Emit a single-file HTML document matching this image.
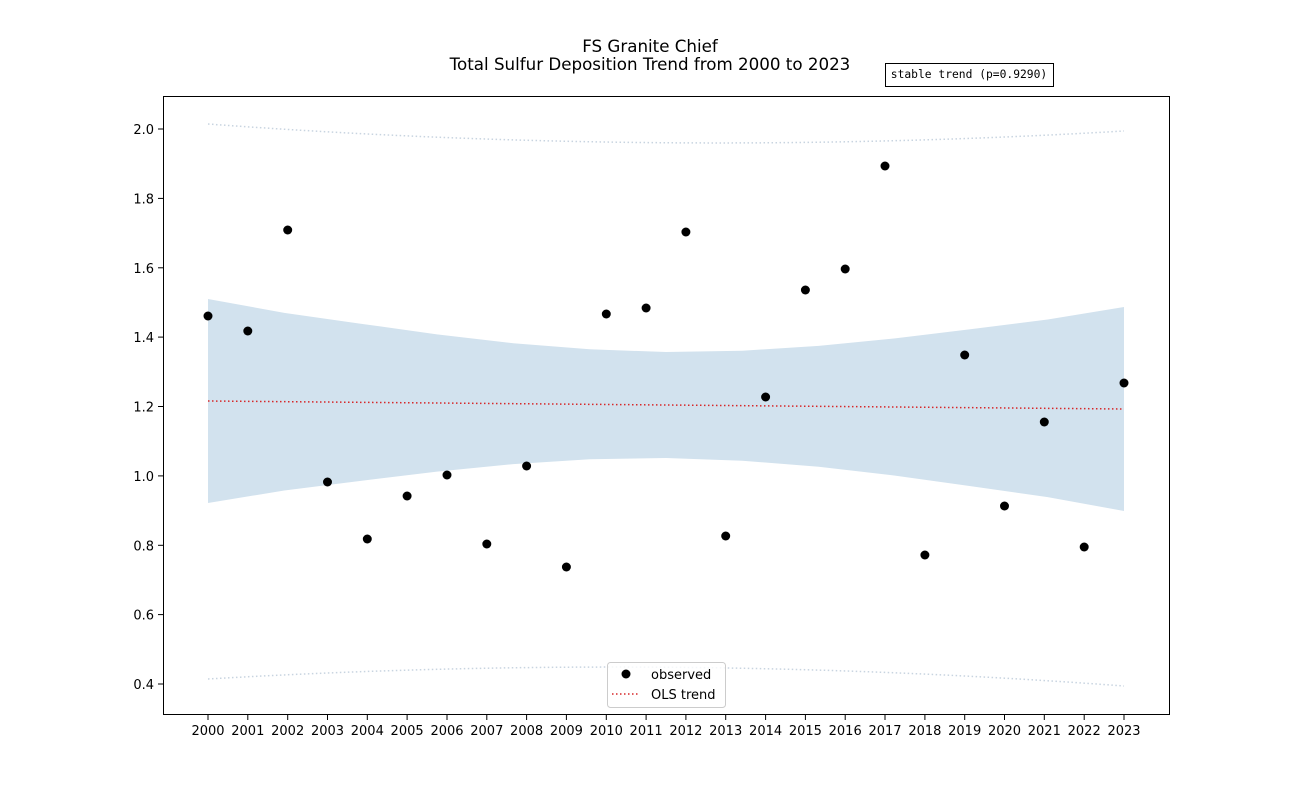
<!DOCTYPE html>
<html><head><style>body{margin:0;background:#fff}svg{display:block}</style></head><body>
<svg width="1300" height="803" xmlns="http://www.w3.org/2000/svg" font-family="DejaVu Sans, Liberation Sans, sans-serif">
<rect width="1300" height="803" fill="#fff"/>
<text x="650" y="52" font-size="16.7" text-anchor="middle">FS Granite Chief</text>
<text x="650" y="70" font-size="16.7" text-anchor="middle">Total Sulfur Deposition Trend from 2000 to 2023</text>
<rect x="885.5" y="63.5" width="168" height="23" fill="#fff" stroke="#000"/>
<text x="969" y="78" font-size="11.3" text-anchor="middle" font-family="DejaVu Sans Mono, Liberation Mono, monospace">stable trend (p=0.9290)</text>
<polygon fill="#d2e2ee" points="208,299 284.3,312.9 360.7,323.7 437,334.4 513.3,343.3 589.7,349.3 666,352 742.3,350.7 818.7,345.9 895,338.4 971.3,329.1 1047.7,319.5 1124,307 1124,511 1047.7,497.1 971.3,486.3 895,475.6 818.7,466.7 742.3,460.7 666,458 589.7,459.3 513.3,464.1 437,471.6 360.7,480.9 284.3,490.5 208,503"/>
<path d="M208,124 Q666,158 1124,131" fill="none" stroke="#c8d4e0" stroke-width="1.5" stroke-dasharray="1.5,2.5"/>
<path d="M208,679 Q666,652 1124,686" fill="none" stroke="#c8d4e0" stroke-width="1.5" stroke-dasharray="1.5,2.5"/>
<line x1="208" y1="401" x2="1124" y2="409" stroke="#d62728" stroke-width="1.5" stroke-dasharray="1.5,2.5"/>
<g fill="#000">
<circle cx="208" cy="316" r="4.5"/><circle cx="247.8" cy="331" r="4.5"/><circle cx="287.7" cy="230" r="4.5"/><circle cx="327.5" cy="482" r="4.5"/><circle cx="367.3" cy="539" r="4.5"/><circle cx="407.1" cy="496" r="4.5"/><circle cx="447" cy="475" r="4.5"/><circle cx="486.8" cy="544" r="4.5"/><circle cx="526.6" cy="466" r="4.5"/><circle cx="566.4" cy="567" r="4.5"/><circle cx="606.3" cy="314" r="4.5"/><circle cx="646.1" cy="308" r="4.5"/><circle cx="685.9" cy="232" r="4.5"/><circle cx="725.7" cy="536" r="4.5"/><circle cx="765.6" cy="397" r="4.5"/><circle cx="805.4" cy="290" r="4.5"/><circle cx="845.2" cy="269" r="4.5"/><circle cx="885" cy="166" r="4.5"/><circle cx="924.9" cy="555" r="4.5"/><circle cx="964.7" cy="355" r="4.5"/><circle cx="1004.5" cy="506" r="4.5"/><circle cx="1044.3" cy="422" r="4.5"/><circle cx="1084.2" cy="547" r="4.5"/><circle cx="1124" cy="383" r="4.5"/>
</g>
<rect x="163.5" y="96.5" width="1006" height="618" fill="none" stroke="#000"/>
<g stroke="#000">
<line x1="158" y1="129" x2="163" y2="129"/><line x1="158" y1="198.4" x2="163" y2="198.4"/><line x1="158" y1="267.8" x2="163" y2="267.8"/><line x1="158" y1="337.1" x2="163" y2="337.1"/><line x1="158" y1="406.5" x2="163" y2="406.5"/><line x1="158" y1="475.9" x2="163" y2="475.9"/><line x1="158" y1="545.3" x2="163" y2="545.3"/><line x1="158" y1="614.6" x2="163" y2="614.6"/><line x1="158" y1="684" x2="163" y2="684"/>
</g>
<g font-size="13" text-anchor="end">
<text x="154" y="134">2.0</text><text x="154" y="203.4">1.8</text><text x="154" y="272.8">1.6</text><text x="154" y="342.1">1.4</text><text x="154" y="411.5">1.2</text><text x="154" y="480.9">1.0</text><text x="154" y="550.3">0.8</text><text x="154" y="619.6">0.6</text><text x="154" y="689">0.4</text>
</g>
<g stroke="#000">
<line x1="208" y1="715" x2="208" y2="720"/><line x1="247.8" y1="715" x2="247.8" y2="720"/><line x1="287.7" y1="715" x2="287.7" y2="720"/><line x1="327.5" y1="715" x2="327.5" y2="720"/><line x1="367.3" y1="715" x2="367.3" y2="720"/><line x1="407.1" y1="715" x2="407.1" y2="720"/><line x1="447" y1="715" x2="447" y2="720"/><line x1="486.8" y1="715" x2="486.8" y2="720"/><line x1="526.6" y1="715" x2="526.6" y2="720"/><line x1="566.4" y1="715" x2="566.4" y2="720"/><line x1="606.3" y1="715" x2="606.3" y2="720"/><line x1="646.1" y1="715" x2="646.1" y2="720"/><line x1="685.9" y1="715" x2="685.9" y2="720"/><line x1="725.7" y1="715" x2="725.7" y2="720"/><line x1="765.6" y1="715" x2="765.6" y2="720"/><line x1="805.4" y1="715" x2="805.4" y2="720"/><line x1="845.2" y1="715" x2="845.2" y2="720"/><line x1="885" y1="715" x2="885" y2="720"/><line x1="924.9" y1="715" x2="924.9" y2="720"/><line x1="964.7" y1="715" x2="964.7" y2="720"/><line x1="1004.5" y1="715" x2="1004.5" y2="720"/><line x1="1044.3" y1="715" x2="1044.3" y2="720"/><line x1="1084.2" y1="715" x2="1084.2" y2="720"/><line x1="1124" y1="715" x2="1124" y2="720"/>
</g>
<g font-size="13" text-anchor="middle">
<text x="208" y="735">2000</text><text x="247.8" y="735">2001</text><text x="287.7" y="735">2002</text><text x="327.5" y="735">2003</text><text x="367.3" y="735">2004</text><text x="407.1" y="735">2005</text><text x="447" y="735">2006</text><text x="486.8" y="735">2007</text><text x="526.6" y="735">2008</text><text x="566.4" y="735">2009</text><text x="606.3" y="735">2010</text><text x="646.1" y="735">2011</text><text x="685.9" y="735">2012</text><text x="725.7" y="735">2013</text><text x="765.6" y="735">2014</text><text x="805.4" y="735">2015</text><text x="845.2" y="735">2016</text><text x="885" y="735">2017</text><text x="924.9" y="735">2018</text><text x="964.7" y="735">2019</text><text x="1004.5" y="735">2020</text><text x="1044.3" y="735">2021</text><text x="1084.2" y="735">2022</text><text x="1124" y="735">2023</text>
</g>
<rect x="607.5" y="662.5" width="118" height="45" rx="3" fill="#fff" fill-opacity="0.8" stroke="#ccc"/>
<circle cx="626" cy="674" r="4.5" fill="#000"/>
<text x="651" y="679" font-size="13">observed</text>
<line x1="612" y1="694" x2="640" y2="694" stroke="#d62728" stroke-width="1.5" stroke-dasharray="1.5,2.5"/>
<text x="651" y="699" font-size="13">OLS trend</text>
</svg>
</body></html>
